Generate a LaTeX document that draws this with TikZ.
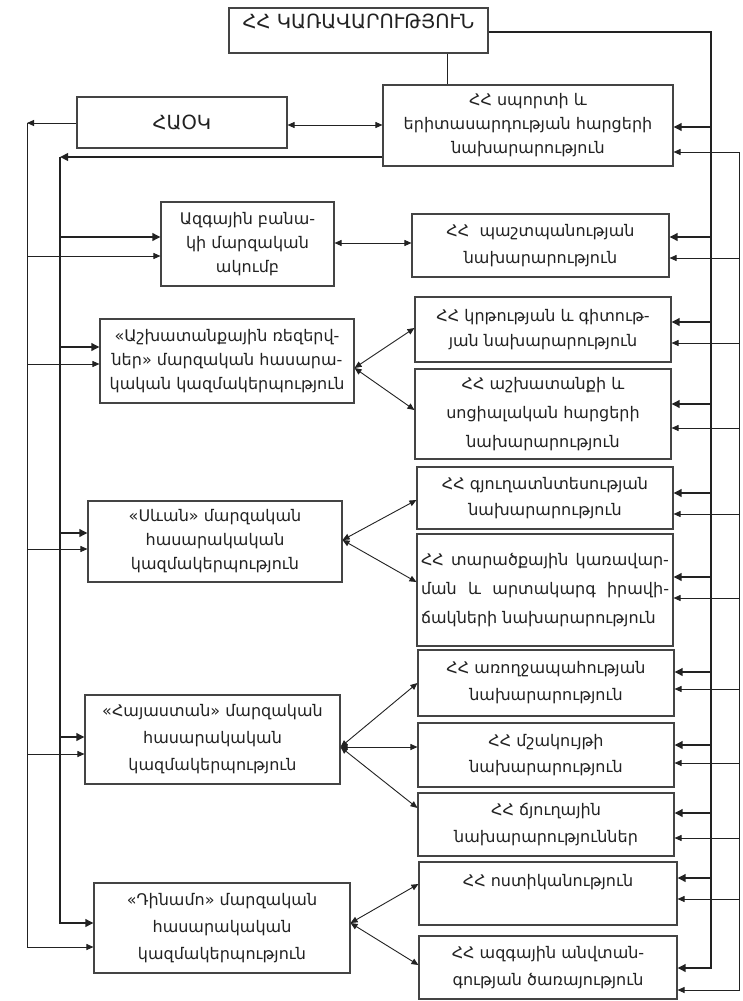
\documentclass[tikz,border=0pt]{standalone}
\usepackage{fontspec}
\setmainfont{DejaVu Sans}
\usetikzlibrary{arrows.meta}
\definecolor{ink}{HTML}{222222}
\definecolor{frame}{HTML}{444444}
\tikzset{
  box/.style={draw=frame, line width=1.1pt, inner sep=0pt, align=center, text=ink,
              font=\fontsize{16}{26}\selectfont},
  fs/.style={font=\fontsize{16}{#1}\selectfont},
  caps/.style={font=\fontsize{19.5}{24}\selectfont},
  thinln/.style={draw=ink, line width=0.9pt},
  thickln/.style={draw=ink, line width=2.4pt},
  tip/.style={-{Triangle[length=7pt,width=6pt]}},
  ttip/.style={-{Triangle[length=8pt,width=7.5pt]}},
  dbl/.style={{Triangle[length=7pt,width=6pt]}-{Triangle[length=7pt,width=6pt]}},
}
\begin{document}
\begin{tikzpicture}[x=1pt,y=-1pt]
\useasboundingbox[fill=white] (0,0) rectangle (743,1001);

% ---------- boxes ----------
\node[box, caps, minimum width=259pt, minimum height=45pt, text height=14pt, text depth=18pt] (gov) at (358.5,30.5) {ՀՀ ԿԱՌԱՎԱՐՈՒԹՅՈՒՆ};
\node[box, fs=24, minimum width=290pt, minimum height=81pt] (sport) at (528,125.5) {ՀՀ սպորտի և\\երիտասարդության հարցերի\\նախարարություն};
\node[box, caps, minimum width=210pt, minimum height=51pt] (haok) at (182,122.5) {ՀԱՕԿ};

\node[box, fs=24, minimum width=173pt, minimum height=84pt] (nac) at (247.5,244) {Ազգային բանա-\\կի մարզական\\ակումբ};
\node[box, fs=27, minimum width=257pt, minimum height=63pt] (m1) at (540.5,245.5) {ՀՀ\ \ պաշտպանության\\նախարարություն};
\node[box, fs=25, minimum width=256pt, minimum height=65pt] (m2) at (543,329.5) {ՀՀ կրթության և գիտութ-\\յան նախարարություն};
\node[box, fs=24, minimum width=254pt, minimum height=84pt] (B) at (227,361) {«Աշխատանքային ռեզերվ-\\ներ» մարզական հասարա-\\կական կազմակերպություն};
\node[box, fs=29, minimum width=256pt, minimum height=90pt] (m3) at (543,414) {ՀՀ աշխատանքի և\\սոցիալական հարցերի\\նախարարություն};
\node[box, fs=26, minimum width=256pt, minimum height=62pt] (m4) at (545,498) {ՀՀ գյուղատնտեսության\\նախարարություն};
\node[box, fs=29, align=left, minimum width=256pt, minimum height=112pt] (m5) at (545,590) {\hbox to 248pt{ՀՀ\hfill տարածքային\hfill կառավար-}\\\hbox to 248pt{ման\hfill և\hfill արտակարգ\hfill իրավի-}\\ճակների նախարարություն};
\node[box, fs=24, minimum width=254pt, minimum height=81pt] (C) at (215,541.5) {«Սևան» մարզական\\հասարակական\\կազմակերպություն};
\node[box, fs=27, minimum width=256pt, minimum height=66pt] (m6) at (546,683) {ՀՀ առողջապահության\\նախարարություն};
\node[box, fs=26, minimum width=256pt, minimum height=64pt] (m7) at (546,755) {ՀՀ մշակույթի\\նախարարություն};
\node[box, fs=27, minimum width=255pt, minimum height=89pt] (D) at (212.5,739.5) {«Հայաստան» մարզական\\հասարակական\\կազմակերպություն};
\node[box, fs=27, minimum width=256pt, minimum height=63pt] (m8) at (546,824.5) {ՀՀ ճյուղային\\նախարարություններ};
\node[box, minimum width=258pt, minimum height=63pt, text height=10pt, text depth=24pt] (m9) at (548,893.5) {ՀՀ ոստիկանություն};
\node[box, fs=27, minimum width=258pt, minimum height=63pt] (m10) at (548,967.5) {ՀՀ ազգային անվտան-\\գության ծառայություն};
\node[box, fs=27, minimum width=256pt, minimum height=90pt] (E) at (222,928) {«Դինամո» մարզական\\հասարակական\\կազմակերպություն};

% ---------- bus x positions ----------
\coordinate (RT) at (711,0);
\coordinate (RN) at (739,0);
\coordinate (LT) at (60,0);
\coordinate (LN) at (27,0);

% government -> ministry of sport
\coordinate (gs) at ([xshift=88.5pt]gov.south);
\draw[thinln] (gs) -- (gs |- sport.north);

% right thick bus
\draw[thickln, ttip] (gov.east |- 0,32) -- (RT |- 0,32) -- (RT |- 0,968) -- (m10.east |- 0,968);
\foreach \n/\y in {sport/127, m1/237, m2/322, m3/404, m4/493, m5/577, m6/672, m7/745, m8/813, m9/878}
  \draw[thickln, ttip] (RT |- 0,\y) -- (\n.east |- 0,\y);

% right thin bus
\draw[thinln, dbl] (sport.east |- 0,152) -- (RN |- 0,152) -- (RN |- 0,990) -- (m10.east |- 0,990);
\foreach \n/\y in {m1/258, m2/343, m3/428, m4/514, m5/598, m6/689, m7/763, m8/838, m9/899}
  \draw[thinln, tip] (RN |- 0,\y) -- (\n.east |- 0,\y);

% left thick bus
\draw[thickln, ttip] (sport.west |- 0,157) -- (LT |- 0,157);
\draw[thickln, ttip] (LT |- 0,157) -- (LT |- 0,923) -- (E.west |- 0,923);
\foreach \n/\y in {nac/237, B/347, C/533, D/737}
  \draw[thickln, ttip] (LT |- 0,\y) -- (\n.west |- 0,\y);

% left thin bus
\draw[thinln, tip] (haok.west |- 0,123) -- (LN |- 0,123);
\draw[thinln, tip] (LN |- 0,123) -- (LN |- 0,947) -- (E.west |- 0,947);
\foreach \n/\y in {nac/256, B/364, C/549, D/754}
  \draw[thinln, tip] (LN |- 0,\y) -- (\n.west |- 0,\y);

% middle double arrows
\draw[thinln, dbl] (haok.east |- 0,125) -- (sport.west |- 0,125);
\draw[thinln, dbl] (nac.east |- 0,243) -- (m1.west |- 0,243);

% fans
\foreach \t/\y in {m2/328, m3/410}
  \draw[thinln, dbl] (B.east |- 0,368) -- (\t.west |- 0,\y);
\foreach \t/\y in {m4/500, m5/582}
  \draw[thinln, dbl] (C.east |- 0,540) -- (\t.west |- 0,\y);
\foreach \t/\y in {m6/683, m7/747, m8/808}
  \draw[thinln, dbl] (D.east |- 0,747) -- (\t.west |- 0,\y);
\foreach \t/\y in {m9/884, m10/965}
  \draw[thinln, dbl] (E.east |- 0,923) -- (\t.west |- 0,\y);
\end{tikzpicture}
\end{document}
